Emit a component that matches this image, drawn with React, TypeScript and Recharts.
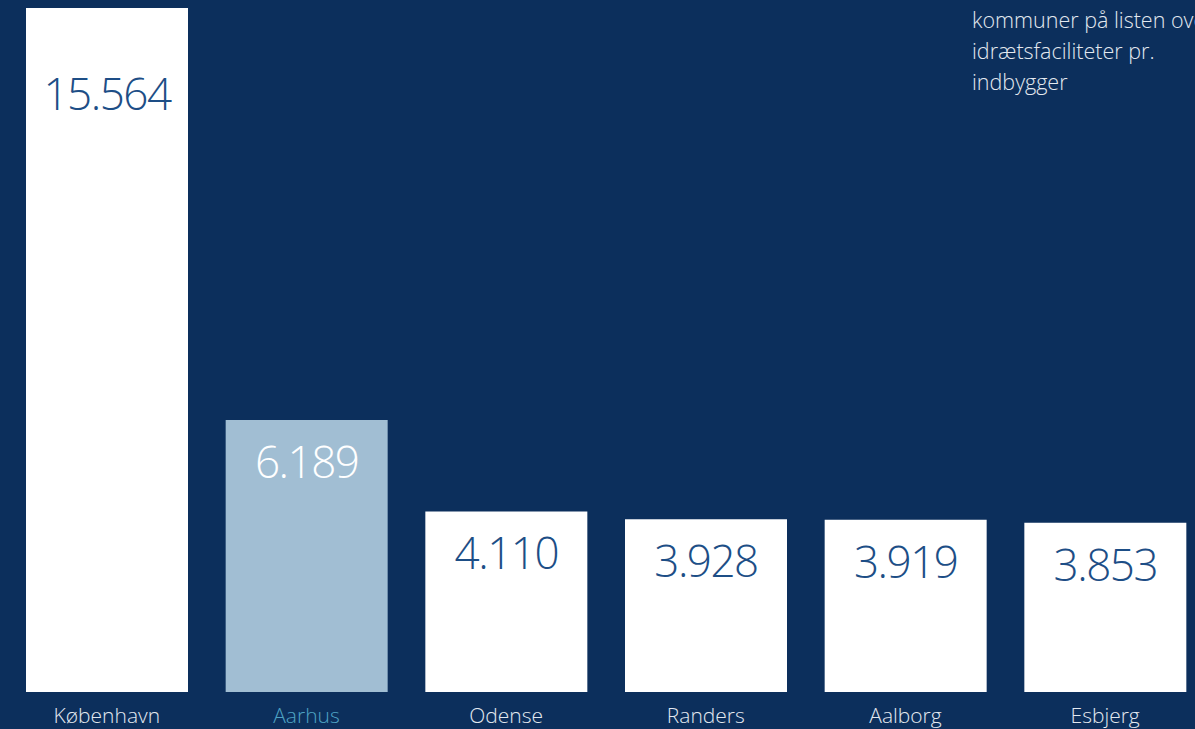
import React from 'react';
import { BarChart, Bar, XAxis, YAxis, Cell, LabelList } from 'recharts';

const municipalities = ['København', 'Aarhus', 'Odense', 'Randers', 'Aalborg', 'Esbjerg'];
const facilities = [15564, 6189, 4110, 3928, 3919, 3853];
const noteLines = ['kommuner på listen over', 'idrætsfaciliteter pr.', 'indbygger'];

const data = municipalities.map((name, i) => ({ name, value: facilities[i] }));

const NAVY = '#0c2f5c';
const BAR_WHITE = '#ffffff';
const BAR_HIGHLIGHT = '#a1bed3';
const VALUE_BLUE = '#1d4e86';
const LABEL_LIGHT = '#e3e9f0';
const LABEL_HIGHLIGHT = '#4ea3c4';
const FONT = '"Open Sans", sans-serif';

const HIGHLIGHT = 'Aarhus';

const formatNumber = (v: number) => v.toLocaleString('da-DK');

const ValueLabel = (props: any) => {
  const { x, y, width, value, index } = props;
  const name = municipalities[index];
  const offset = index === 0 ? 85 : 41;
  return (
    <text
      x={x + width / 2}
      y={y + offset}
      textAnchor="middle"
      dominantBaseline="central"
      fontFamily={FONT}
      fontWeight={300}
      fontSize={44}
      letterSpacing={-1.5}
      fill={name === HIGHLIGHT ? '#ffffff' : VALUE_BLUE}
    >
      {formatNumber(value)}
    </text>
  );
};

const CategoryTick = (props: any) => {
  const { x, y, payload } = props;
  return (
    <text
      x={x}
      y={y + 15}
      textAnchor="middle"
      dominantBaseline="central"
      fontFamily={FONT}
      fontWeight={300}
      fontSize={21}
      fill={payload.value === HIGHLIGHT ? LABEL_HIGHLIGHT : LABEL_LIGHT}
    >
      {payload.value}
    </text>
  );
};

export default function App() {
  return (
    <div
      style={{
        position: 'fixed',
        left: 0,
        top: 0,
        width: 1195,
        height: 729,
        background: NAVY,
        overflow: 'hidden'
      }}
    >
      <BarChart
        width={1205}
        height={729}
        data={data}
        margin={{ top: 8, right: 0, left: 7, bottom: 0 }}
      >
        <XAxis
          dataKey="name"
          axisLine={false}
          tickLine={false}
          height={37}
          interval={0}
          tick={<CategoryTick />}
        />
        <YAxis hide domain={[0, 'dataMax']} />
        <Bar dataKey="value" barSize={162} isAnimationActive={false}>
          {data.map((d) => (
            <Cell key={d.name} fill={d.name === HIGHLIGHT ? BAR_HIGHLIGHT : BAR_WHITE} />
          ))}
          <LabelList dataKey="value" content={<ValueLabel />} />
        </Bar>
      </BarChart>
      <div
        style={{
          position: 'absolute',
          left: 972,
          top: 4,
          fontFamily: FONT,
          fontWeight: 300,
          fontSize: 21.5,
          lineHeight: '31px',
          color: LABEL_LIGHT,
          whiteSpace: 'nowrap'
        }}
      >
        {noteLines.map((line) => (
          <div key={line}>{line}</div>
        ))}
      </div>
    </div>
  );
}
